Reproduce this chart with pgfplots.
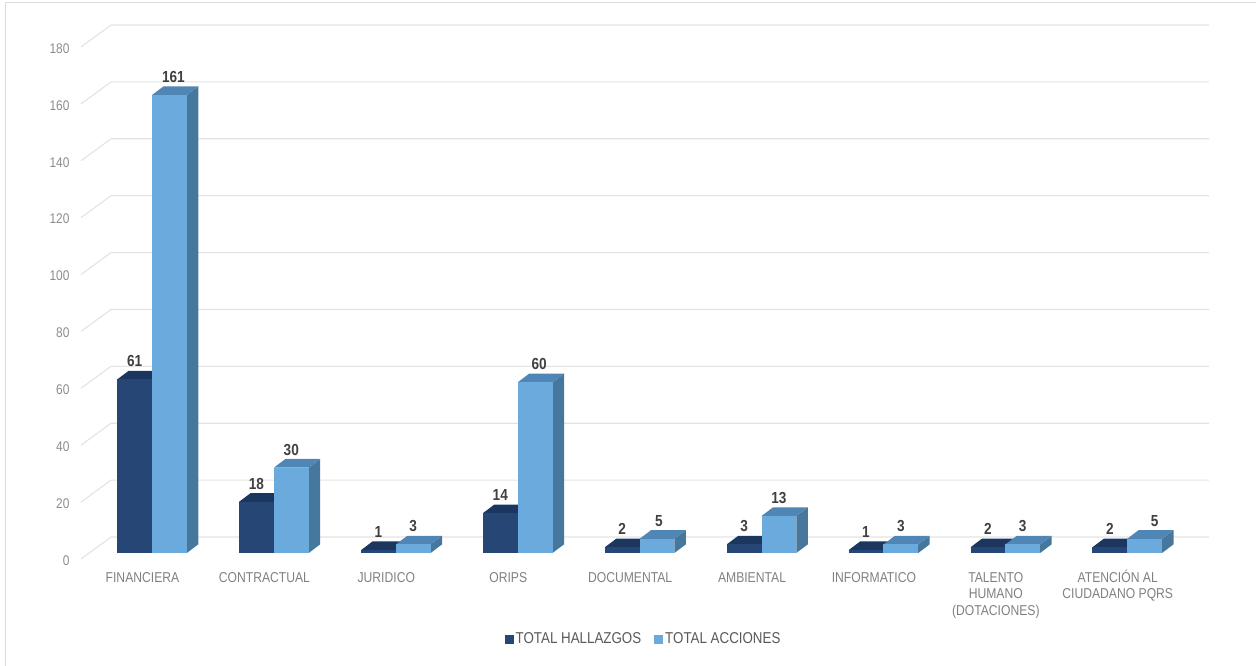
\documentclass[border=0pt]{standalone}
\usepackage{fontspec}
\setmainfont[FakeStretch=0.85]{Liberation Sans}
\usepackage{pgfplots}
\pgfplotsset{compat=1.18}

\definecolor{dkfront}{HTML}{264675}
\definecolor{dktop}{HTML}{1B365F}
\definecolor{ltfront}{HTML}{6AAADC}
\definecolor{lttop}{HTML}{5086B5}
\definecolor{ltside}{HTML}{46789E}
\definecolor{gridc}{HTML}{E3E3E3}

% left edge (category units), value, front, top, side, label offset (px)
\newcommand{\threedbar}[6]{%
  \pgfmathsetmacro\xa{#1}%
  \pgfmathsetmacro\xb{#1+0.2855}%
  \pgfmathsetmacro\xc{#1+0.2855+0.0943}%
  \pgfmathsetmacro\xd{#1+0.0943}%
  \pgfmathsetmacro\yt{#2+3.05}%
  \pgfmathsetmacro\xl{#1+0.14275+#6/121.9}%
  \pgfmathsetmacro\yl{#2+3.05+3.3}%
  \edef\temp{%
    \noexpand\addplot[fill=#5,draw=none,forget plot] coordinates {(\xb,0)(\xc,3.05)(\xc,\yt)(\xb,#2)};
    \noexpand\addplot[fill=#4,draw=none,forget plot] coordinates {(\xa,#2)(\xb,#2)(\xc,\yt)(\xd,\yt)};
    \noexpand\addplot[fill=#3,draw=none,forget plot] coordinates {(\xa,0)(\xb,0)(\xb,#2)(\xa,#2)};
    \noexpand\node[datalab] at (axis cs:\xl,\yl) {#2};
  }\temp
}
\newcommand{\gridrow}[1]{%
  \pgfmathsetmacro\ya{#1-2.11}%
  \pgfmathsetmacro\yb{#1+5.62}%
  \edef\temp{\noexpand\addplot[gridc,line width=1.1pt,forget plot] coordinates {(-0.5824,\ya)(-0.336,\yb)(8.671,\yb)};}\temp
}
\newcommand{\st}{\rule{0pt}{13pt}}

\begin{document}
\begin{tikzpicture}[
    datalab/.style={font=\fontsize{16}{18}\selectfont\bfseries,text=black!75,inner sep=0pt},
  ]
  \useasboundingbox (0,0) rectangle (1256pt,665pt);
  \clip (0,0) rectangle (1256pt,665pt);
  \draw[black!14,line width=1pt] (5.5pt,-1pt) -- (5.5pt,662.5pt) -- (1257pt,662.5pt);
  \begin{axis}[
      at={(81pt,106pt)},anchor=south west,
      scale only axis,width=1128pt,height=534pt,
      xmin=-0.5824,xmax=8.671,ymin=-2.11,ymax=185.62,
      clip=false,
      axis line style={draw=none},
      tick style={draw=none},
      ytick={0,20,...,180},
      xtick={0,1,2,3,4,5,6,7,8},
      xticklabels={\st FINANCIERA,\st CONTRACTUAL,\st JURIDICO,\st ORIPS,\st DOCUMENTAL,\st AMBIENTAL,\st INFORMATICO,{\st TALENTO\\HUMANO\\(DOTACIONES)},{\st ATENCIÓN AL\\CIUDADANO PQRS}},
      xticklabel style={align=center,xshift=-9.5pt,yshift=-6.5pt,text=black!50,font=\fontsize{14.3}{16.8}\selectfont},
      yticklabel style={yshift=-7.5pt,xshift=-8pt,text=black!45,font=\fontsize{14}{17}\selectfont},
      /pgf/number format/assume math mode=true,
      legend style={at={(0.4987,-0.15)},anchor=center,draw=none,fill=none,
        legend columns=2,font=\fontsize{15.7}{18}\selectfont,text=black!65,
        /tikz/every even column/.append style={column sep=11pt}},
      legend image code/.code={\path[#1] (0pt,-4.5pt) rectangle (9pt,4.5pt);},
    ]
    \gridrow{0}\gridrow{20}\gridrow{40}\gridrow{60}\gridrow{80}
    \gridrow{100}\gridrow{120}\gridrow{140}\gridrow{160}\gridrow{180}

    \threedbar{-0.2855}{61}{dkfront}{dktop}{dktop}{0}
    \threedbar{0.7145}{18}{dkfront}{dktop}{dktop}{0}
    \threedbar{1.7145}{1}{dkfront}{dktop}{dktop}{0}
    \threedbar{2.7145}{14}{dkfront}{dktop}{dktop}{0}
    \threedbar{3.7145}{2}{dkfront}{dktop}{dktop}{0}
    \threedbar{4.7145}{3}{dkfront}{dktop}{dktop}{0}
    \threedbar{5.7145}{1}{dkfront}{dktop}{dktop}{0}
    \threedbar{6.7145}{2}{dkfront}{dktop}{dktop}{0}
    \threedbar{7.7145}{2}{dkfront}{dktop}{dktop}{0}

    \threedbar{0}{161}{ltfront}{lttop}{ltside}{4}
    \threedbar{1}{30}{ltfront}{lttop}{ltside}{0}
    \threedbar{2}{3}{ltfront}{lttop}{ltside}{0}
    \threedbar{3}{60}{ltfront}{lttop}{ltside}{4}
    \threedbar{4}{5}{ltfront}{lttop}{ltside}{2}
    \threedbar{5}{13}{ltfront}{lttop}{ltside}{0}
    \threedbar{6}{3}{ltfront}{lttop}{ltside}{0}
    \threedbar{7}{3}{ltfront}{lttop}{ltside}{0}
    \threedbar{8}{5}{ltfront}{lttop}{ltside}{10}

    \addlegendimage{fill=dkfront,draw=none}
    \addlegendimage{fill=ltfront,draw=none}
    \legend{TOTAL HALLAZGOS,TOTAL ACCIONES}
  \end{axis}
\end{tikzpicture}
\end{document}
